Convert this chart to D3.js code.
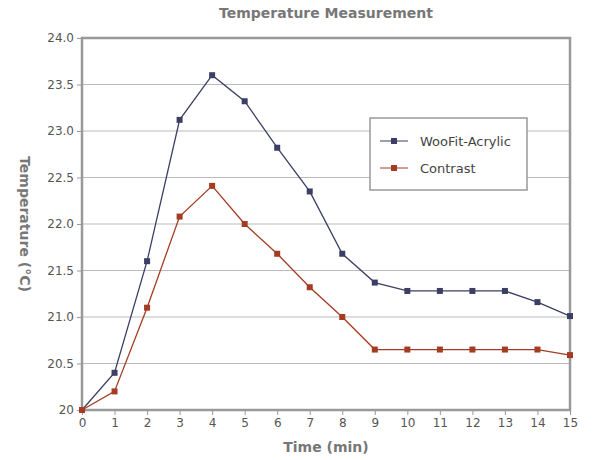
<!DOCTYPE html>
<html><head><meta charset="utf-8">
<script src="https://cdn.jsdelivr.net/npm/d3@7"></script>
<style>body{margin:0;background:#fff;font-family:"DejaVu Sans",Verdana,sans-serif;}</style>
</head><body>
<script>
const times = d3.range(0, 16);
const wooFit = [20.0, 20.4, 21.6, 23.12, 23.6, 23.32, 22.82, 22.35, 21.68, 21.37, 21.28, 21.28, 21.28, 21.28, 21.16, 21.01];
const contrast = [20.0, 20.2, 21.1, 22.08, 22.41, 22.0, 21.68, 21.32, 21.0, 20.65, 20.65, 20.65, 20.65, 20.65, 20.65, 20.59];
const yTicks = [20, 20.5, 21, 21.5, 22, 22.5, 23, 23.5, 24];
const yLabels = ["20", "20.5", "21.0", "21.5", "22.0", "22.5", "23.0", "23.5", "24.0"];
const series = [
  {name: "WooFit-Acrylic", values: wooFit, color: "#3b3f63"},
  {name: "Contrast", values: contrast, color: "#a33c22"}
];

const svg = d3.select("body").append("svg").attr("width", 600).attr("height", 460);
const x = d3.scaleLinear().domain([0, 15]).range([82, 570]);
const y = d3.scaleLinear().domain([20, 24]).range([410, 38]);

svg.append("g").selectAll("line").data(yTicks).enter().append("line")
  .attr("x1", 82).attr("x2", 570).attr("y1", d => y(d)).attr("y2", d => y(d))
  .attr("stroke", "#bbb").attr("stroke-width", 1);

svg.append("rect").attr("x", 82).attr("y", 38).attr("width", 488).attr("height", 372)
  .attr("fill", "none").attr("stroke", "#999").attr("stroke-width", 2.5);

const xAxis = svg.append("g").attr("transform", "translate(0,410)")
  .call(d3.axisBottom(x).tickValues(times).tickSize(5).tickFormat(d3.format("d")));
const yAxis = svg.append("g").attr("transform", "translate(82,0)")
  .call(d3.axisLeft(y).tickValues(yTicks).tickSize(5).tickFormat((d, i) => yLabels[i]));
[xAxis, yAxis].forEach(g => {
  g.select(".domain").remove();
  g.selectAll("line").attr("stroke", "#999");
  g.selectAll("text").attr("fill", "#555").attr("font-size", 12).attr("font-family", "DejaVu Sans");
});

const line = d3.line().x((d, i) => x(times[i])).y(d => y(d));
series.forEach(s => {
  svg.append("path").datum(s.values).attr("d", line).attr("fill", "none")
    .attr("stroke", s.color).attr("stroke-width", 1.3);
  svg.append("g").selectAll("rect").data(s.values).enter().append("rect")
    .attr("x", (d, i) => x(times[i]) - 3).attr("y", d => y(d) - 3)
    .attr("width", 6).attr("height", 6).attr("fill", s.color);
});

svg.append("text").attr("x", 326).attr("y", 18).attr("text-anchor", "middle")
  .attr("font-weight", "bold").attr("font-size", 14).attr("fill", "#777").text("Temperature Measurement");
svg.append("text").attr("x", 326).attr("y", 452).attr("text-anchor", "middle")
  .attr("font-weight", "bold").attr("font-size", 14).attr("fill", "#777").text("Time (min)");
svg.append("text").attr("transform", "translate(20,224) rotate(90)").attr("text-anchor", "middle")
  .attr("font-weight", "bold").attr("font-size", 14).attr("fill", "#777").text("Temperature (°C)");

const lg = svg.append("g");
lg.append("rect").attr("x", 370).attr("y", 118).attr("width", 157).attr("height", 72)
  .attr("fill", "#fff").attr("stroke", "#999").attr("stroke-width", 1.5);
series.forEach((s, i) => {
  const yy = 141 + i * 27;
  lg.append("line").attr("x1", 380).attr("x2", 408).attr("y1", yy).attr("y2", yy).attr("stroke", s.color);
  lg.append("rect").attr("x", 391).attr("y", yy - 3).attr("width", 6).attr("height", 6).attr("fill", s.color);
  lg.append("text").attr("x", 420).attr("y", yy + 5).attr("font-size", 13).attr("fill", "#444").text(s.name);
});
</script>
</body></html>
